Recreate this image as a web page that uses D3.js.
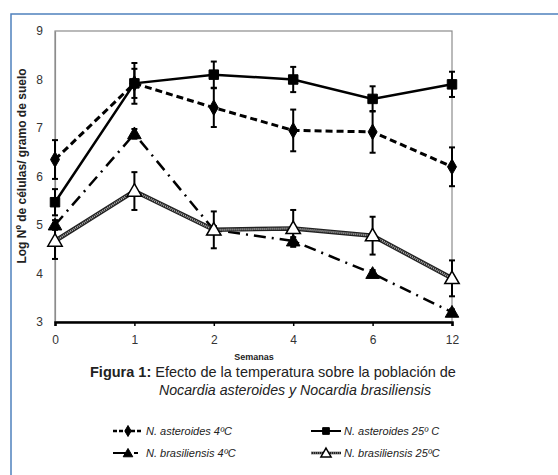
<!DOCTYPE html>
<html><head><meta charset="utf-8">
<script src="https://cdn.jsdelivr.net/npm/d3@7"></script>
<style>body{margin:0;background:#fff}svg{display:block}</style>
</head><body>
<svg id="c" width="558" height="475"></svg>
<script>
const weeks = ["0","1","2","4","6","12"];
const yTicks = [3,4,5,6,7,8,9];
const astero4 = [6.35, 7.92, 7.42, 6.95, 6.92, 6.2];
const astero4Err = [0.4, 0.42, 0.4, 0.43, 0.43, 0.4];
const astero25 = [5.47, 7.92, 8.1, 8.0, 7.6, 7.9];
const astero25Err = [0.27, 0.3, 0.27, 0.26, 0.26, 0.26];
const brasil4 = [5.0, 6.88, 4.9, 4.67, 4.0, 3.2];
const brasil4Err = [0.1, 0.1, 0.08, 0.08, 0.07, 0.06];
const brasil25 = [4.67, 5.7, 4.9, 4.93, 4.78, 3.9];
const brasil25Err = [0.37, 0.39, 0.38, 0.38, 0.39, 0.37];
const seriesNames = ["N. asteroides 4ºC","N. asteroides 25º C","N. brasiliensis 4ºC","N. brasiliensis 25ºC"];

const svg = d3.select("#c");
const ff = "Liberation Sans, Arial, sans-serif";
svg.append("rect").attr("x",11).attr("y",14).attr("width",600).attr("height",500)
  .attr("fill","none").attr("stroke","#4f81bd").attr("stroke-width",1.5);

const L=55,R=452,T=31,B=322;
const x = d3.scalePoint().domain(weeks).range([L,R]);
const y = d3.scaleLinear().domain([3,9]).range([B,T]);

svg.append("rect").attr("x",L).attr("y",T).attr("width",R-L).attr("height",B-T)
  .attr("fill","none").attr("stroke","#8c8c8c").attr("stroke-width",1.2);

const yAx = svg.append("g").attr("transform",`translate(${L},0)`)
  .call(d3.axisLeft(y).tickValues(yTicks).tickFormat(d3.format("d")).tickSize(0).tickPadding(12));
yAx.select(".domain").attr("stroke","#8c8c8c").attr("stroke-width",1.2);
yAx.selectAll("text").attr("font-family",ff).attr("font-size",12).attr("fill","#333");

const xAx = svg.append("g").attr("transform",`translate(0,${B})`)
  .call(d3.axisBottom(x).tickSize(4).tickPadding(9));
xAx.select(".domain").attr("stroke","#000").attr("stroke-width",2.5);
xAx.selectAll(".tick line").attr("stroke","#000").attr("stroke-width",1.5);
xAx.selectAll("text").attr("font-family",ff).attr("font-size",12).attr("fill","#333");

svg.append("text").attr("transform","translate(26,166) rotate(-90)")
  .attr("text-anchor","middle").attr("font-family",ff).attr("font-weight","bold")
  .attr("font-size",12).attr("fill","#222").text("Log Nº de células/ gramo de suelo");
svg.append("text").attr("x",254).attr("y",360).attr("text-anchor","middle")
  .attr("font-family",ff).attr("font-weight","bold").attr("font-size",9).attr("fill","#222").text("Semanas");

const cap = svg.append("text").attr("x",90).attr("y",377).attr("font-family",ff).attr("font-size",14.5).attr("fill","#222");
cap.append("tspan").attr("font-weight","bold").text("Figura 1: ");
cap.append("tspan").text("Efecto de la temperatura sobre la población de");
svg.append("text").attr("x",295).attr("y",395).attr("text-anchor","middle").attr("font-family",ff)
  .attr("font-size",14.2).attr("font-style","italic").attr("fill","#222")
  .text("Nocardia asteroides y  Nocardia brasiliensis");

const series = [
  {vals:astero4, err:astero4Err, dash:"7,4", w:3, sym:d3.symbolDiamond, size:70, fill:"#000"},
  {vals:astero25, err:astero25Err, dash:null, w:2.5, sym:d3.symbolSquare, size:90, fill:"#000"},
  {vals:brasil4, err:brasil4Err, dash:"12,6,2,6", w:2.5, sym:d3.symbolTriangle, size:80, fill:"#000"},
  {vals:brasil25, err:brasil25Err, dash:null, w:4, sym:d3.symbolTriangle, size:90, fill:"#fff", hatch:true}
];
const line = d3.line().x((d,i)=>x(weeks[i])).y(d=>y(d));

function drawLine(g, path, s){
  if(s.hatch){
    g.append("path").attr("d",path).attr("fill","none").attr("stroke","#222").attr("stroke-width",4.5);
    g.append("path").attr("d",path).attr("fill","none").attr("stroke","#bbb").attr("stroke-width",2).attr("stroke-dasharray","1,1");
  } else {
    g.append("path").attr("d",path).attr("fill","none").attr("stroke","#000")
      .attr("stroke-width",s.w).attr("stroke-dasharray",s.dash);
  }
}
function drawMarker(g, cx, cy, s, scale){
  const p = d3.symbol().type(s.sym).size(s.size*(scale||1))();
  g.append("path").attr("d",p).attr("transform",`translate(${cx},${cy+ (s.sym===d3.symbolTriangle?1:0)})`)
    .attr("fill",s.fill).attr("stroke","#000").attr("stroke-width",s.hatch?1.5:1);
}

series.forEach(s=>{
  const g = svg.append("g");
  drawLine(g, line(s.vals), s);
  s.vals.forEach((v,i)=>{
    const cx = x(weeks[i]);
    const y1=y(v+s.err[i]), y2=y(v-s.err[i]);
    g.append("line").attr("x1",cx).attr("x2",cx).attr("y1",y1).attr("y2",y2).attr("stroke","#000").attr("stroke-width",2);
    [y1,y2].forEach(yy=>g.append("line").attr("x1",cx-3).attr("x2",cx+3).attr("y1",yy).attr("y2",yy).attr("stroke","#000").attr("stroke-width",2));
  });
  s.vals.forEach((v,i)=>drawMarker(g, x(weeks[i]), y(v), s));
});

const legPos = [[113,431],[311,431],[113,453],[311,453]];
series.forEach((s,i)=>{
  const [lx,ly]=legPos[i];
  const g = svg.append("g");
  const p = `M${lx},${ly}L${lx+30},${ly}`;
  if(s.hatch){
    g.append("path").attr("d",p).attr("stroke","#222").attr("stroke-width",2.5);
    g.append("path").attr("d",p).attr("stroke","#bbb").attr("stroke-width",1).attr("stroke-dasharray","1,1");
  } else {
    g.append("path").attr("d",p).attr("stroke","#000").attr("stroke-width",s.w*0.8).attr("stroke-dasharray",s.dash?(i===0?"4,2":"16,5,4,5"):null);
  }
  drawMarker(g, lx+15, ly, s, 0.5);
  g.append("text").attr("x",lx+33).attr("y",ly+4).attr("font-family",ff).attr("font-style","italic")
    .attr("font-size",11).attr("fill","#222").text(seriesNames[i]);
});
</script>
</body></html>
